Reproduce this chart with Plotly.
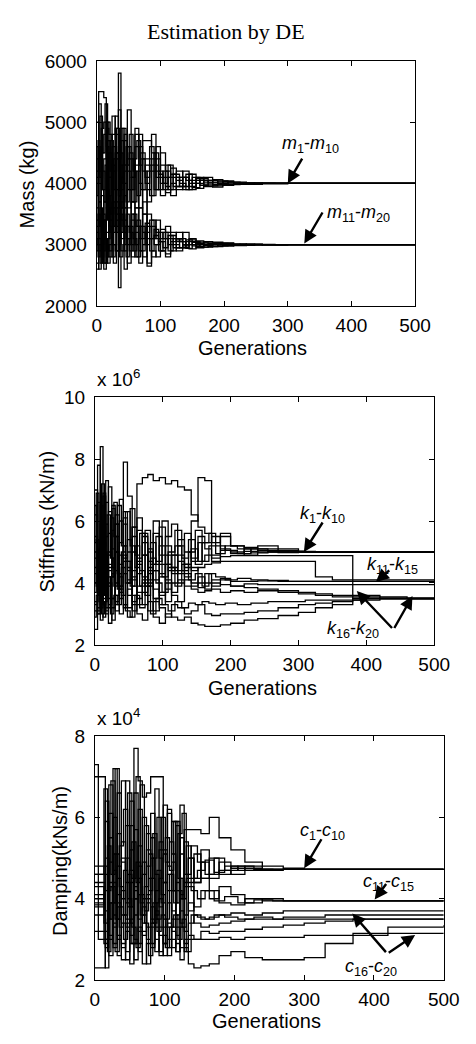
import plotly.graph_objects as go

W, H = 476, 1044
FONT = "Liberation Sans, Arial, sans-serif"

# ---------------- Panel 1: Mass (kg) ----------------
gen_mass = [0, 3, 7, 11, 15, 19, 24, 29, 34, 38, 43, 48, 54, 60, 66, 72, 79, 86, 93, 100,
            108, 116, 125, 135, 145, 156, 168, 182, 198, 215, 235, 260, 300, 500]
m_a = [4100, 5500, 5500, 5400, 3000, 2900, 4800, 5100, 3800, 4300, 4700, 4200, 3900, 4600, 4300,
       4700, 4700, 4500, 4100, 4300, 3950, 4150, 4050, 4200, 3950, 4050, 4100, 3980, 4030, 4000,
       4010, 3995, 4000, 4000]
m_b = [4000, 5300, 2700, 4400, 4900, 4800, 3300, 4900, 5200, 3100, 4200, 5200, 4400, 3600, 4800,
       4200, 3900, 4400, 4600, 3800, 4100, 4250, 3900, 4100, 4000, 3920, 4050, 4020, 3970, 4005,
       3990, 4000, 4000, 4000]
m_c = [5000, 4200, 4900, 5000, 4600, 3800, 5100, 3500, 4400, 4900, 3300, 4600, 4100, 4800, 3600,
       4400, 4400, 3800, 4200, 4500, 3850, 4000, 4200, 3900, 4150, 4000, 3950, 4060, 3990, 4020,
       3990, 4000, 4000, 4000]
m_d = [3600, 4600, 3900, 3700, 5000, 4100, 4600, 3200, 4600, 3900, 4800, 3600, 4100, 4900, 4000,
       3500, 4200, 4800, 3900, 4100, 4300, 3800, 4100, 3950, 4050, 4100, 3990, 3960, 4040, 3985,
       4005, 4000, 4000, 4000]
m_e = [4200, 3700, 4500, 4800, 3600, 4500, 3900, 4500, 3300, 4700, 4000, 4400, 3700, 4300, 4600,
       3900, 3700, 4200, 4400, 4000, 4200, 3900, 3950, 4100, 3900, 4080, 4020, 3940, 4010, 4000,
       3990, 4005, 4000, 4000]
m_f = [2700, 2600, 3800, 2600, 3200, 4100, 3000, 2900, 5800, 3600, 2600, 3300, 2800, 3600, 3100,
       3500, 2700, 3300, 3100, 2900, 3200, 3100, 2950, 3200, 3050, 2970, 3050, 3000, 2980, 3010,
       3000, 3000, 3000, 3000]
m_g = [2600, 3300, 2800, 3100, 2900, 3500, 4300, 3900, 2300, 3700, 3200, 2700, 3400, 3000, 3600,
       2800, 3300, 3100, 3400, 2900, 2850, 3150, 3050, 2950, 3100, 3000, 2960, 3040, 2990, 3010,
       2995, 3000, 3000, 3000]
m_h = [3400, 2900, 3500, 3700, 2800, 3000, 3300, 4400, 3200, 2900, 3800, 3100, 3500, 2800, 3300,
       3200, 2650, 3400, 3200, 3050, 2800, 3050, 3200, 3000, 2930, 3060, 3000, 2970, 3020, 2990,
       3005, 3000, 3000, 3000]
m_i = [3000, 3700, 3200, 2700, 3600, 2800, 3700, 3300, 3600, 3400, 2900, 3900, 3000, 3200, 2900,
       3700, 3100, 2800, 3000, 3250, 3100, 2900, 3080, 3050, 3000, 2950, 3030, 3010, 2980, 3000,
       3010, 2995, 3000, 3000]
m_j = [3200, 3100, 3000, 3400, 3900, 3300, 2800, 3600, 3000, 4100, 3400, 3000, 3700, 3300, 2700,
       3000, 3500, 2900, 2800, 3100, 3300, 3200, 2900, 2980, 3080, 3020, 2990, 3000, 3030, 2985,
       3000, 3000, 3000, 3000]
mass_series = [m_a, m_b, m_c, m_d, m_e, m_f, m_g, m_h, m_i, m_j]

gen_mass2 = [0, 2, 5, 9, 13, 17, 21, 26, 31, 36, 41, 46, 51, 57, 63, 69, 76, 83, 90, 97,
             104, 112, 120, 130, 140, 150, 162, 175, 190, 206, 225, 248, 280, 330, 500]
m_k = [4400, 4400, 5100, 3900, 4300, 5000, 4200, 3600, 4500, 4000, 4900, 3700, 4500, 4200, 3800,
       4400, 4100, 4600, 3900, 4200, 4000, 4300, 4100, 3950, 4150, 4000, 4080, 3960, 4040, 3990,
       4010, 4000, 4000, 4000, 4000]
m_l = [3800, 4700, 4100, 4500, 5300, 3500, 4700, 4200, 4900, 3600, 4300, 4600, 3900, 4400, 4700,
       3900, 4300, 3800, 4300, 4150, 3900, 4100, 3950, 4100, 4050, 3930, 4050, 4010, 3980, 4020,
       3990, 4005, 4000, 4000, 4000]
m_m = [4600, 3300, 4600, 4200, 3700, 4700, 3400, 4400, 4800, 4500, 3600, 4300, 4800, 3700, 4200,
       4500, 4000, 4300, 4500, 3900, 4200, 3900, 4150, 4000, 3900, 4100, 3970, 4050, 4000, 3980,
       4000, 4000, 4000, 4000, 4000]
m_n = [2900, 3500, 3300, 2900, 3400, 3800, 3200, 2700, 3700, 3200, 3600, 3100, 2900, 3500, 3300,
       2900, 3200, 3400, 3000, 3200, 3100, 2900, 3100, 3050, 2940, 3050, 3000, 2970, 3020, 3000,
       2990, 3005, 3000, 3000, 3000]
m_o = [3100, 2800, 3600, 3400, 2700, 3100, 3600, 3200, 3400, 2800, 3000, 3500, 3200, 2900, 3400,
       3100, 3350, 2900, 3250, 3050, 2950, 3150, 3000, 2950, 3080, 2980, 3030, 3000, 2980, 3010,
       3000, 3000, 3000, 3000, 3000]
m_p = [3300, 3000, 2700, 3500, 3100, 2700, 3400, 3000, 2900, 3500, 3300, 2800, 3300, 3100, 2800,
       3300, 3000, 3100, 3150, 2900, 3200, 3000, 2950, 3100, 3000, 3040, 2960, 3020, 3000, 2990,
       3010, 3000, 3000, 3000, 3000]
mass_series2 = [m_k, m_l, m_m, m_n, m_o, m_p]

# ---------------- Panel 2: Stiffness (x 10^6 kN/m) ----------------
gen_stiff = [0, 4, 8, 12, 16, 20, 25, 30, 36, 42, 48, 55, 62, 70, 78, 86, 95, 104, 113, 122,
             132, 142, 152, 162, 172, 185, 200, 220, 240, 270, 300, 325, 350, 380, 420, 460, 500]
k_a = [4.0, 7.8, 3.2, 6.9, 4.2, 5.6, 3.5, 6.2, 4.6, 5.9, 4.1, 5.5, 4.8, 5.3, 4.3, 5.6, 4.9, 5.2,
       4.5, 5.4, 5.0, 4.7, 5.3, 5.1, 4.9, 5.05, 5.0, 5.02, 5.0, 5.0, 5.0, 5.0, 5.0, 5.0, 5.0, 5.0, 5.0]
k_b = [4.8, 3.0, 8.4, 5.2, 7.3, 4.6, 6.5, 5.0, 3.7, 7.9, 6.8, 4.4, 6.1, 4.9, 4.1, 6.0, 4.3, 5.5,
       5.9, 4.4, 5.6, 4.8, 5.5, 5.3, 5.5, 5.1, 4.95, 5.1, 5.05, 4.98, 5.02, 5.0, 5.0, 5.0, 5.0, 5.0, 5.0]
k_c = [7.0, 4.5, 6.5, 3.4, 5.5, 7.1, 4.2, 5.9, 3.9, 6.3, 4.7, 5.8, 7.2, 7.4, 7.5, 7.3, 7.4, 7.2,
       7.3, 7.1, 7.0, 6.2, 5.8, 5.6, 5.3, 5.5, 5.2, 5.15, 5.1, 5.05, 5.0, 5.0, 5.0, 5.0, 5.0, 5.0, 5.0]
k_d = [5.5, 3.8, 6.0, 4.9, 3.6, 6.3, 5.1, 4.0, 6.7, 4.8, 5.4, 3.9, 5.7, 4.2, 5.0, 4.6, 5.8, 3.8,
       4.9, 5.2, 4.5, 6.0, 7.4, 7.3, 4.7, 5.6, 5.2, 4.9, 5.2, 5.1, 5.0, 5.0, 5.0, 5.0, 5.0, 5.0, 5.0]
k_f = [3.4, 6.6, 4.4, 5.8, 3.1, 4.5, 6.4, 3.3, 5.3, 6.1, 4.0, 5.0, 4.3, 5.6, 4.7, 4.1, 5.2, 4.6,
       4.3, 4.9, 4.6, 5.1, 4.7, 4.9, 4.8, 4.85, 4.88, 4.88, 4.88, 4.88, 4.88, 4.88, 4.88, 3.6, 3.55, 3.5, 3.5]
k_g = [4.3, 3.0, 5.9, 4.1, 6.6, 3.3, 4.8, 5.9, 3.5, 5.2, 4.5, 3.4, 4.7, 5.5, 4.0, 4.4, 3.7, 4.6,
       4.9, 4.0, 4.3, 3.9, 4.2, 4.0, 4.1, 4.15, 4.05, 4.05, 4.07, 4.05, 4.05, 4.05, 4.05, 4.05, 4.05, 4.05, 4.05]
k_h = [6.2, 3.6, 4.7, 6.8, 3.2, 5.0, 4.5, 3.1, 6.0, 4.3, 3.6, 5.8, 3.5, 4.1, 5.1, 3.5, 4.2, 3.4,
       4.0, 4.7, 4.2, 4.5, 4.0, 3.8, 4.0, 3.95, 3.9, 3.97, 3.95, 3.95, 3.95, 3.95, 3.95, 3.95, 3.95, 3.95, 3.95]
k_i = [3.1, 5.0, 4.0, 3.3, 5.9, 4.0, 3.2, 5.5, 4.2, 3.3, 5.0, 4.1, 3.9, 4.9, 3.9, 4.4, 3.6, 4.9,
       4.4, 4.3, 4.6, 4.4, 4.5, 4.6, 4.65, 4.7, 4.7, 4.7, 4.7, 4.7, 4.7, 4.2, 4.1, 4.1, 4.1, 4.1, 4.1]
k_j = [2.5, 3.2, 4.6, 2.9, 3.8, 2.7, 3.5, 4.4, 3.0, 3.3, 2.9, 3.6, 3.0, 2.8, 3.4, 2.9, 2.7, 3.0,
       2.9, 2.8, 2.9, 2.7, 2.65, 2.6, 2.6, 2.65, 2.7, 2.8, 2.85, 2.95, 3.05, 3.2, 3.3, 3.45, 3.5, 3.5, 3.5]
k_k = [3.3, 4.1, 2.8, 3.5, 4.4, 3.2, 2.8, 3.6, 4.9, 3.2, 3.8, 3.1, 3.3, 4.0, 3.1, 3.4, 3.2, 2.9,
       3.3, 3.2, 3.0, 3.1, 3.3, 3.0, 2.95, 3.0, 3.0, 3.05, 3.1, 3.2, 3.3, 3.35, 3.4, 3.5, 3.5, 3.5, 3.5]
k_l = [4.5, 3.1, 5.3, 3.7, 3.0, 4.4, 5.7, 3.4, 3.9, 4.7, 3.2, 4.2, 3.7, 3.3, 4.5, 3.8, 3.3, 4.0,
       3.7, 4.1, 3.9, 3.8, 3.7, 3.75, 3.8, 3.7, 3.75, 3.7, 3.75, 3.7, 3.65, 3.6, 3.55, 3.5, 3.5, 3.5, 3.5]
k_m = [5.0, 4.3, 3.3, 5.3, 4.7, 3.9, 4.3, 5.0, 3.8, 4.9, 4.4, 3.3, 4.6, 3.7, 4.4, 3.1, 4.6, 4.1,
       3.6, 3.4, 4.1, 4.0, 3.85, 4.3, 3.9, 4.1, 3.9, 3.85, 3.8, 3.75, 3.7, 3.65, 3.6, 3.55, 3.5, 3.5, 3.5]
stiff_series = [k_a, k_b, k_c, k_d, k_f, k_g, k_h, k_i, k_j, k_k, k_l, k_m]

gen_stiff2 = [0, 2, 6, 10, 14, 18, 23, 28, 33, 39, 45, 52, 59, 66, 74, 82, 90, 99, 108, 118,
              128, 138, 148, 158, 168, 178, 192, 210, 230, 255, 285, 310, 340, 400, 450, 500]
k_n = [5.3, 6.9, 4.1, 5.7, 3.6, 6.2, 4.8, 3.9, 6.5, 5.2, 4.0, 6.4, 4.9, 5.6, 3.9, 5.3, 4.7, 6.0,
       4.4, 5.2, 4.8, 5.4, 4.6, 5.3, 5.6, 5.2, 5.05, 4.95, 5.1, 5.0, 5.03, 5.0, 5.0, 5.0, 5.0, 5.0]
k_o = [6.5, 3.9, 5.1, 7.2, 4.4, 4.9, 6.1, 5.5, 3.8, 5.0, 6.3, 5.2, 4.5, 3.9, 5.7, 4.6, 5.5, 4.2,
       5.0, 5.7, 4.4, 5.0, 5.7, 4.7, 5.2, 4.95, 5.2, 5.1, 4.97, 5.03, 5.0, 5.0, 5.0, 5.0, 5.0, 5.0]
k_p = [3.7, 5.4, 3.4, 4.6, 5.0, 3.5, 4.2, 6.6, 4.3, 3.6, 4.7, 3.9, 5.2, 4.4, 3.6, 4.8, 4.0, 3.7,
       4.5, 3.9, 4.6, 4.1, 4.3, 3.9, 4.3, 4.2, 4.1, 4.15, 4.1, 4.08, 4.05, 4.05, 4.05, 4.05, 4.05, 4.05]
k_q = [2.9, 3.6, 5.0, 3.0, 3.4, 4.2, 3.0, 3.6, 3.3, 4.5, 3.1, 2.9, 3.6, 3.2, 3.9, 3.0, 3.5, 3.3,
       3.1, 3.4, 3.2, 3.35, 3.3, 3.4, 3.35, 3.3, 3.35, 3.3, 3.35, 3.4, 3.4, 3.45, 3.45, 3.5, 3.5, 3.5]
stiff_series2 = [k_n, k_o, k_p, k_q]

# ---------------- Panel 3: Damping (x 10^4 kNs/m) ----------------
gen_damp = [0, 5, 10, 15, 20, 26, 32, 38, 44, 50, 56, 62, 68, 74, 80, 86, 92, 98, 104, 110,
            116, 122, 128, 134, 142, 152, 164, 178, 195, 215, 240, 270, 300, 330, 370, 420, 500]
c_a = [7.0, 7.0, 7.0, 2.3, 6.8, 3.4, 6.6, 4.0, 5.8, 3.1, 7.7, 6.9, 6.5, 6.6, 7.0, 7.0, 7.0, 5.2,
       4.2, 5.9, 3.6, 5.5, 4.4, 5.0, 4.5, 5.2, 4.6, 4.9, 4.75, 4.8, 4.7, 4.72, 4.72, 4.72, 4.72, 4.72, 4.72]
c_b = [4.8, 4.8, 4.8, 5.9, 3.0, 7.2, 4.5, 2.8, 6.9, 4.7, 3.6, 6.2, 4.0, 5.6, 3.3, 6.7, 5.0, 2.9,
       6.1, 4.2, 5.8, 3.4, 5.4, 4.4, 5.1, 4.5, 5.0, 4.6, 4.8, 4.7, 4.72, 4.72, 4.72, 4.72, 4.72, 4.72, 4.72]
c_c = [4.0, 4.0, 4.0, 6.4, 4.3, 5.1, 3.8, 6.9, 3.3, 5.2, 6.6, 4.1, 6.0, 3.0, 5.5, 4.6, 3.8, 6.3,
       4.8, 3.3, 5.9, 4.1, 5.7, 5.7, 5.7, 5.6, 6.0, 5.5, 5.2, 4.9, 4.8, 4.75, 4.72, 4.72, 4.72, 4.72, 4.72]
c_d = [3.9, 3.9, 3.9, 4.6, 6.1, 3.9, 5.6, 4.9, 2.5, 6.4, 4.3, 5.3, 3.6, 4.8, 6.1, 3.9, 5.2, 4.4,
       6.2, 5.1, 3.9, 6.3, 4.3, 5.0, 4.4, 4.9, 4.5, 4.7, 4.6, 4.75, 4.72, 4.72, 4.72, 4.72, 4.72, 4.72, 4.72]
c_e = [2.3, 2.3, 2.3, 5.0, 3.5, 6.0, 2.6, 5.4, 4.4, 3.4, 5.7, 3.2, 4.6, 5.2, 3.5, 4.2, 5.4, 3.3,
       4.6, 3.7, 4.4, 5.1, 3.6, 4.3, 3.8, 4.2, 4.0, 4.3, 4.1, 3.9, 4.0, 3.95, 3.95, 3.95, 3.95, 3.95, 3.95]
c_f = [4.4, 4.4, 4.4, 3.2, 5.5, 4.4, 3.5, 5.0, 3.9, 5.8, 4.0, 4.8, 3.4, 4.1, 5.0, 3.6, 4.5, 5.1,
       3.3, 4.9, 3.5, 4.0, 4.6, 3.7, 4.4, 4.5, 4.2, 3.9, 3.85, 4.0, 3.95, 3.95, 3.95, 3.95, 3.95, 3.95, 3.95]
c_g = [4.6, 4.6, 4.6, 3.7, 4.9, 2.9, 4.1, 3.6, 5.0, 3.8, 2.9, 4.5, 3.1, 3.9, 4.5, 2.7, 4.0, 3.5,
       2.8, 4.2, 3.1, 3.7, 2.7, 3.4, 3.6, 3.5, 3.55, 3.6, 3.65, 3.6, 3.65, 3.7, 3.7, 3.7, 3.7, 3.7, 3.7]
c_h = [3.6, 3.6, 3.6, 4.2, 3.1, 4.7, 3.0, 4.2, 3.5, 2.4, 4.0, 3.5, 4.9, 2.4, 3.8, 3.3, 2.6, 4.4,
       3.0, 3.5, 2.7, 4.5, 3.2, 3.9, 3.4, 3.3, 3.35, 3.4, 3.45, 3.5, 3.5, 3.55, 3.55, 3.6, 3.6, 3.6, 3.6]
c_i = [3.2, 3.2, 3.2, 2.8, 3.9, 3.3, 4.8, 2.9, 3.4, 4.4, 3.0, 2.7, 3.8, 3.3, 2.9, 3.7, 3.1, 2.6,
       3.9, 2.8, 3.3, 2.8, 3.0, 3.1, 3.0, 3.2, 3.15, 3.2, 3.2, 3.25, 3.3, 3.35, 3.4, 3.45, 3.5, 3.5, 3.5]
c_j = [7.3, 3.0, 3.0, 3.0, 2.6, 3.6, 3.1, 2.5, 3.2, 2.9, 2.5, 3.3, 2.4, 2.9, 3.4, 3.0, 2.7, 3.1,
       2.6, 3.0, 2.9, 2.5, 2.8, 2.4, 2.3, 2.35, 2.4, 2.6, 2.7, 2.55, 2.5, 2.5, 2.55, 2.9, 3.1, 3.3, 3.35]
c_k = [3.8, 3.8, 3.8, 3.0, 4.4, 2.8, 3.9, 3.4, 2.7, 3.5, 4.2, 2.9, 3.2, 4.0, 2.8, 3.5, 3.3, 2.9,
       3.4, 3.2, 2.7, 3.3, 2.9, 3.0, 3.0, 3.0, 3.0, 3.05, 3.0, 3.05, 3.05, 3.05, 3.1, 3.1, 3.15, 3.15, 3.15]
damp_series = [c_a, c_b, c_c, c_d, c_e, c_f, c_g, c_h, c_i, c_j, c_k]

gen_damp2 = [0, 3, 8, 13, 18, 23, 29, 35, 41, 47, 53, 59, 65, 71, 77, 83, 89, 95, 101, 107,
             113, 119, 125, 131, 138, 147, 158, 171, 186, 205, 228, 255, 290, 340, 420, 500]
c_l = [4.6, 4.6, 4.6, 6.7, 4.2, 6.9, 3.5, 5.3, 6.2, 3.8, 5.4, 4.4, 6.8, 3.7, 4.5, 5.6, 3.5, 6.0,
       4.9, 5.4, 4.2, 5.6, 6.1, 4.6, 5.3, 4.9, 4.6, 5.0, 4.7, 4.8, 4.73, 4.72, 4.72, 4.72, 4.72, 4.72]
c_m = [4.3, 4.3, 4.3, 3.4, 5.3, 4.6, 7.2, 4.3, 3.6, 6.6, 4.5, 7.0, 3.9, 5.8, 4.2, 5.0, 6.0, 3.9,
       5.5, 4.7, 5.9, 4.5, 4.0, 5.3, 4.5, 4.7, 4.95, 4.65, 4.8, 4.7, 4.72, 4.72, 4.72, 4.72, 4.72, 4.72]
c_n = [3.85, 3.85, 3.85, 4.8, 2.7, 3.9, 5.1, 3.3, 4.7, 4.0, 2.9, 4.9, 3.6, 4.3, 5.1, 3.4, 4.7, 4.1,
       3.5, 4.6, 3.9, 4.2, 3.3, 4.5, 4.2, 4.0, 4.2, 3.95, 4.05, 3.9, 3.97, 3.95, 3.95, 3.95, 3.95, 3.95]
c_o = [4.1, 4.1, 4.1, 2.9, 3.5, 4.3, 2.7, 3.8, 3.0, 4.6, 3.3, 2.8, 4.1, 3.4, 2.6, 3.9, 3.2, 3.6,
       2.8, 3.3, 3.6, 3.0, 3.5, 2.7, 3.6, 3.55, 3.5, 3.6, 3.55, 3.5, 3.55, 3.5, 3.5, 3.5, 3.5, 3.5]
damp_series2 = [c_l, c_m, c_n, c_o]

gen_ticks = [0, 100, 200, 300, 400, 500]
mass_ticks = [2000, 3000, 4000, 5000, 6000]
stiff_ticks = [2, 4, 6, 8, 10]
damp_ticks = [2, 4, 6, 8]

fig = go.Figure()

def add_series(gens, series, xa, ya):
    for s in series:
        n = min(len(gens), len(s))
        fig.add_trace(go.Scatter(x=gens[:n], y=s[:n], mode="lines",
                                 line=dict(color="black", width=1.3, shape="hv"),
                                 xaxis=xa, yaxis=ya, showlegend=False, hoverinfo="skip"))

add_series(gen_mass, mass_series, "x", "y")
add_series(gen_mass2, mass_series2, "x", "y")
add_series(gen_stiff, stiff_series, "x2", "y2")
add_series(gen_stiff2, stiff_series2, "x2", "y2")
add_series(gen_damp, damp_series, "x3", "y3")
add_series(gen_damp2, damp_series2, "x3", "y3")

def px_dom(a, b, total):
    return [a / total, b / total]

def py_dom(top, bottom):
    return [1 - bottom / H, 1 - top / H]

axis_common = dict(showline=True, linecolor="black", linewidth=1, mirror="ticks",
                   ticks="inside", ticklen=5, tickcolor="black", showgrid=False,
                   zeroline=False, tickfont=dict(family=FONT, size=19, color="black"))

panels = [
    ((96, 429), (52, 302), [2000, 6000], mass_ticks),
    ((94, 449), (395, 648), [2, 10], stiff_ticks),
    ((94, 459), (741, 990), [2, 8], damp_ticks),
]
layout_axes = {}
for i, (xd, yd, yr, yt) in enumerate(panels):
    sfx = "" if i == 0 else str(i + 1)
    layout_axes["xaxis" + sfx] = dict(domain=px_dom(xd[0], xd[1], W), range=[0, 500],
                                      tickvals=gen_ticks, anchor="y" + sfx,
                                      ticklabelstandoff=2, **axis_common)
    layout_axes["yaxis" + sfx] = dict(domain=py_dom(yd[0], yd[1]), range=yr, tickvals=yt,
                                      anchor="x" + sfx, ticklabelstandoff=5, **axis_common)

def pa(x, y, text, size=20, angle=0, family=FONT, xanchor="center"):
    return dict(xref="paper", yref="paper", x=x / W, y=1 - y / H, text=text, showarrow=False,
                font=dict(family=family, size=size, color="black"), textangle=angle,
                xanchor=xanchor, yanchor="middle")

annotations = [
    pa(231, 22, "Estimation by DE", size=22, family="Liberation Serif, Times New Roman, serif"),
    pa(259, 345, "Generations", size=20),
    pa(269, 692, "Generations", size=20),
    pa(274, 1032, "Generations", size=20),
    pa(23, 178, "Mass (kg)", size=20, angle=-90),
    pa(43, 522, "Stiffness (kN/m)", size=20, angle=-90),
    pa(57, 868, "Damping(kNs/m)", size=20, angle=-90),
    pa(94, 376, "x 10<sup>6</sup>", size=19, xanchor="left"),
    pa(94, 722, "x 10<sup>4</sup>", size=19, xanchor="left"),
    pa(320, 137, "<i>m</i><sub>1</sub>-<i>m</i><sub>10</sub>", size=18),
    pa(370, 208, "<i>m</i><sub>11</sub>-<i>m</i><sub>20</sub>", size=18),
    pa(332, 515, "<i>k</i><sub>1</sub>-<i>k</i><sub>10</sub>", size=18),
    pa(405, 567, "<i>k</i><sub>11</sub>-<i>k</i><sub>15</sub>", size=18),
    pa(364, 632, "<i>k</i><sub>16</sub>-<i>k</i><sub>20</sub>", size=18),
    pa(332, 838, "<i>c</i><sub>1</sub>-<i>c</i><sub>10</sub>", size=18),
    pa(401, 890, "<i>c</i><sub>11</sub>-<i>c</i><sub>15</sub>", size=18),
    pa(383, 977, "<i>c</i><sub>16</sub>-<i>c</i><sub>20</sub>", size=18),
]

def arrow(xa, ya, x, y, ax, ay):
    return dict(xref=xa, yref=ya, axref=xa, ayref=ya, x=x, y=y, ax=ax, ay=ay, text="",
                showarrow=True, arrowhead=2, arrowsize=1.1, arrowwidth=2.4, arrowcolor="black",
                standoff=0, startstandoff=0)

annotations += [
    arrow("x", "y", 300, 4000, 324, 4430),
    arrow("x", "y", 326, 3020, 356, 3550),
    arrow("x2", "y2", 308, 5.0, 337, 6.0),
    arrow("x2", "y2", 414, 4.03, 436, 4.45),
    arrow("x2", "y2", 386, 3.74, 440, 2.5),
    arrow("x2", "y2", 468, 3.58, 440, 2.5),
    arrow("x3", "y3", 300, 4.75, 326, 5.5),
    arrow("x3", "y3", 401, 3.98, 419, 4.4),
    arrow("x3", "y3", 369, 3.64, 419, 2.65),
    arrow("x3", "y3", 459, 3.11, 419, 2.65),
]

fig.update_layout(width=W, height=H, margin=dict(l=0, r=0, t=0, b=0),
                  paper_bgcolor="white", plot_bgcolor="white", showlegend=False,
                  annotations=annotations, **layout_axes)

fig.write_html("out.html")
